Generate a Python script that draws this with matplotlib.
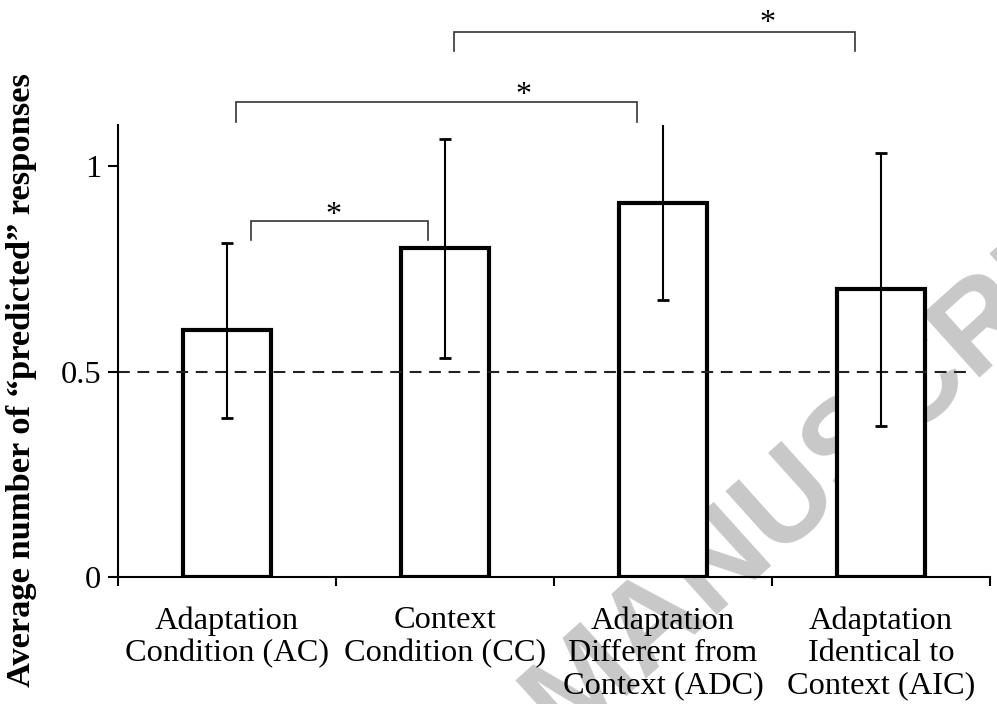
import matplotlib
matplotlib.use('Agg')
import matplotlib.pyplot as plt
import numpy as np

# Data
labels = ['Adaptation\nCondition (AC)', 'Context\nCondition (CC)',
          'Adaptation\nDifferent from\nContext (ADC)',
          'Adaptation\nIdentical to\nContext (AIC)']
means = [0.60, 0.80, 0.91, 0.70]
errors = [0.214, 0.267, 0.236, 0.332]
chance_level = 0.5

# significance brackets: left x, right x, bar height, leg bottom; star positions
bracket_left = [0.61, 0.54, 1.54]
bracket_right = [1.42, 2.38, 3.38]
bracket_top = [0.866, 1.157, 1.326]
bracket_leg = [0.820, 1.108, 1.280]
star_x = [0.99, 1.86, 2.98]
star_y = [0.879, 1.173, 1.347]

plt.rcParams['font.family'] = ['Liberation Serif', 'DejaVu Serif']
plt.rcParams['lines.scale_dashes'] = False

fig = plt.figure(figsize=(9.97, 7.04), dpi=100)
ax = fig.add_axes([0.1184, 0.1804, 0.8746, 0.642])
ax.patch.set_visible(False)

x = np.arange(len(means)) + 0.5
ax.bar(x, means, width=0.4, color='white', edgecolor='black', linewidth=3, zorder=2)
ax.plot([0, 3.9], [chance_level, chance_level], color='#222222', linewidth=1.5,
        dashes=(8.5, 5.5), zorder=2.5)
ax.errorbar(x, means, yerr=errors, fmt='none', ecolor='black', elinewidth=1.5,
            capsize=4.3, capthick=2, zorder=3)

for l, r, t, b in zip(bracket_left, bracket_right, bracket_top, bracket_leg):
    ax.plot([l, l, r, r], [b, t, t, b], color='#333333', linewidth=1.2,
            clip_on=False, solid_joinstyle='miter')
for sx, sy in zip(star_x, star_y):
    ax.text(sx, sy, '*', ha='center', va='center', fontsize=23, clip_on=False)

ax.set_xlim(0, 4)
ax.set_ylim(0, 1.1)
ax.set_yticks([0, 0.5, 1])
ax.set_yticklabels(['0', '0.5', '1'])
ax.set_xticks([0, 1, 2, 3, 4])
ax.set_xticklabels([])
ax.set_xticks(x, minor=True)
ax.set_xticklabels(labels, minor=True, linespacing=1.15)
ax.tick_params(axis='x', which='major', direction='out', length=6.5, width=1.5)
ax.tick_params(axis='x', which='minor', length=0, pad=21, labelsize=23.3)
ax.tick_params(axis='y', direction='out', length=7, width=1.5, pad=5, labelsize=23.3)
for s in ['top', 'right']:
    ax.spines[s].set_visible(False)
for s in ['left', 'bottom']:
    ax.spines[s].set_linewidth(1.5)

fig.text(0.022, 0.46, 'Average number of \u201cpredicted\u201d responses', rotation=90,
         ha='center', va='center', fontsize=24.8, fontweight='bold')

# watermark, drawn beneath the axes
fig.text(0.856, 0.373, 'MANUSCRIPT', rotation=42, rotation_mode='anchor',
         ha='center', va='center', fontsize=90, fontweight='bold',
         color='#c8c8c8', family='Liberation Sans', zorder=-1)

fig.savefig('out.png', dpi=100)
